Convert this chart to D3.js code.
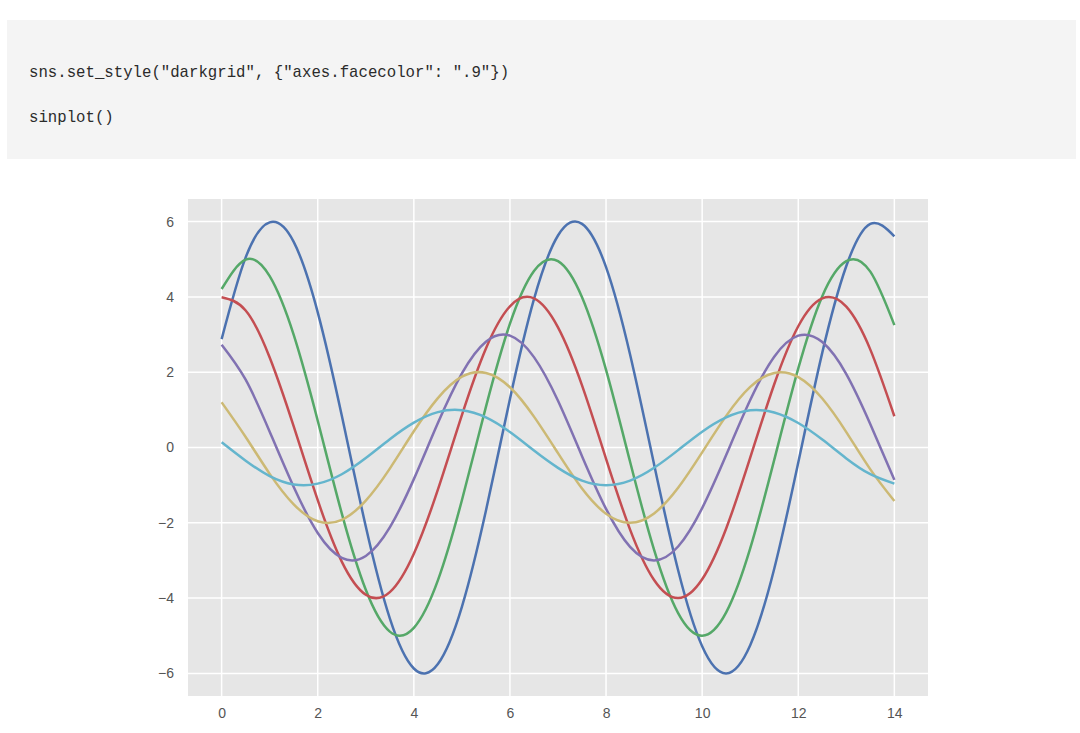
<!DOCTYPE html>
<meta charset="utf-8">
<style>

body {
  margin: 0;
  background: #fff;
}

.code text {
  font: 15.7px "Liberation Mono", "Courier New", monospace;
  fill: #2b2b2b;
}

.tick text {
  font: 14px "Liberation Sans", Arial, sans-serif;
  fill: #555;
}

.grid line {
  stroke: #fff;
  stroke-width: 1.5px;
}

.line {
  fill: none;
  stroke-width: 2.5px;
}

</style>
<svg width="1080" height="733"></svg>
<script src="https://cdn.jsdelivr.net/npm/d3@7"></script>
<script>

// x positions of the samples (step 0.5 from 0 to 14)
var xs = [0, 0.5, 1, 1.5, 2, 2.5, 3, 3.5, 4, 4.5, 5, 5.5, 6, 6.5, 7,
          7.5, 8, 8.5, 9, 9.5, 10, 10.5, 11, 11.5, 12, 12.5, 13, 13.5, 14];

// values, one array per line
var blue   = [2.88, 5.05, 5.98, 5.46, 3.59, 0.85, -2.10, -4.54, -5.87, -5.75, -4.23, -1.68, 1.29, 3.94, 5.63,
              5.94, 4.79, 2.47, -0.45, -3.26, -5.28, -6.00, -5.25, -3.22, -0.40, 2.52, 4.82, 5.94, 5.61];
var green  = [4.21, 4.99, 4.55, 2.99, 0.71, -1.75, -3.78, -4.89, -4.79, -3.53, -1.40, 1.08, 3.29, 4.69, 4.95,
              3.99, 2.06, -0.38, -2.72, -4.40, -5.00, -4.38, -2.68, -0.33, 2.10, 4.02, 4.95, 4.67, 3.25];
var red    = [3.99, 3.64, 2.39, 0.56, -1.40, -3.03, -3.91, -3.84, -2.82, -1.12, 0.86, 2.63, 3.75, 3.96, 3.19,
              1.65, -0.30, -2.18, -3.52, -4.00, -3.50, -2.15, -0.27, 1.68, 3.22, 3.96, 3.74, 2.60, 0.83];
var purple = [2.73, 1.80, 0.42, -1.05, -2.27, -2.93, -2.88, -2.12, -0.84, 0.65, 1.97, 2.81, 2.97, 2.40, 1.24,
              -0.23, -1.63, -2.64, -3.00, -2.63, -1.61, -0.20, 1.26, 2.41, 2.97, 2.80, 1.95, 0.62, -0.86];
var yellow = [1.20, 0.28, -0.70, -1.51, -1.96, -1.92, -1.41, -0.56, 0.43, 1.31, 1.88, 1.98, 1.60, 0.82, -0.15,
              -1.09, -1.76, -2.00, -1.75, -1.07, -0.13, 0.84, 1.61, 1.98, 1.87, 1.30, 0.41, -0.58, -1.42];
var cyan   = [0.14, -0.35, -0.76, -0.98, -0.96, -0.71, -0.28, 0.22, 0.66, 0.94, 0.99, 0.80, 0.41, -0.08, -0.54,
              -0.88, -1.00, -0.88, -0.54, -0.07, 0.42, 0.80, 0.99, 0.93, 0.65, 0.21, -0.29, -0.71, -0.96];

var series = [blue, green, red, purple, yellow, cyan];
var colors = ["#4C72B0", "#55A868", "#C44E52", "#8172B2", "#CCB974", "#64B5CD"];

var xTicks = [0, 2, 4, 6, 8, 10, 12, 14];
var yTicks = [-6, -4, -2, 0, 2, 4, 6];

var codeLines = ['sns.set_style("darkgrid", {"axes.facecolor": ".9"})', "sinplot()"];

var svg = d3.select("svg");

// code cell on top
var code = svg.append("g")
    .attr("class", "code");

code.append("rect")
    .attr("x", 7)
    .attr("y", 20)
    .attr("width", 1069)
    .attr("height", 139)
    .attr("fill", "#f4f4f4");

code.selectAll("text")
    .data(codeLines)
  .enter().append("text")
    .attr("x", 29)
    .attr("y", function(d, i) { return 77 + i * 45; })
    .text(function(d) { return d; });

// plot box
var pLeft = 188, pTop = 199, pRight = 928, pBottom = 696;

var x = d3.scaleLinear()
    .domain([-0.7, 14.7])
    .range([pLeft, pRight]);

var y = d3.scaleLinear()
    .domain([-6.6, 6.6])
    .range([pBottom, pTop]);

svg.append("rect")
    .attr("x", pLeft)
    .attr("y", pTop)
    .attr("width", pRight - pLeft)
    .attr("height", pBottom - pTop)
    .attr("fill", "#e6e6e6");

svg.append("clipPath")
    .attr("id", "clip")
  .append("rect")
    .attr("x", pLeft)
    .attr("y", pTop)
    .attr("width", pRight - pLeft)
    .attr("height", pBottom - pTop);

var grid = svg.append("g")
    .attr("class", "grid");

grid.selectAll(".gx")
    .data(xTicks)
  .enter().append("line")
    .attr("class", "gx")
    .attr("x1", function(d) { return x(d); })
    .attr("x2", function(d) { return x(d); })
    .attr("y1", pTop)
    .attr("y2", pBottom);

grid.selectAll(".gy")
    .data(yTicks)
  .enter().append("line")
    .attr("class", "gy")
    .attr("x1", pLeft)
    .attr("x2", pRight)
    .attr("y1", function(d) { return y(d); })
    .attr("y2", function(d) { return y(d); });

var xAxis = svg.append("g")
    .attr("transform", "translate(0," + pBottom + ")")
    .call(d3.axisBottom(x).tickValues(xTicks).tickSize(0).tickPadding(12));

var yAxis = svg.append("g")
    .attr("transform", "translate(" + pLeft + ",0)")
    .call(d3.axisLeft(y).tickValues(yTicks).tickSize(0).tickPadding(14));

xAxis.select(".domain").remove();
yAxis.select(".domain").remove();

var line = d3.line()
    .x(function(d, i) { return x(xs[i]); })
    .y(function(d) { return y(d); })
    .curve(d3.curveNatural);

svg.append("g")
    .attr("clip-path", "url(#clip)")
  .selectAll("path")
    .data(series)
  .enter().append("path")
    .attr("class", "line")
    .attr("stroke", function(d, i) { return colors[i]; })
    .attr("d", line);

</script>
